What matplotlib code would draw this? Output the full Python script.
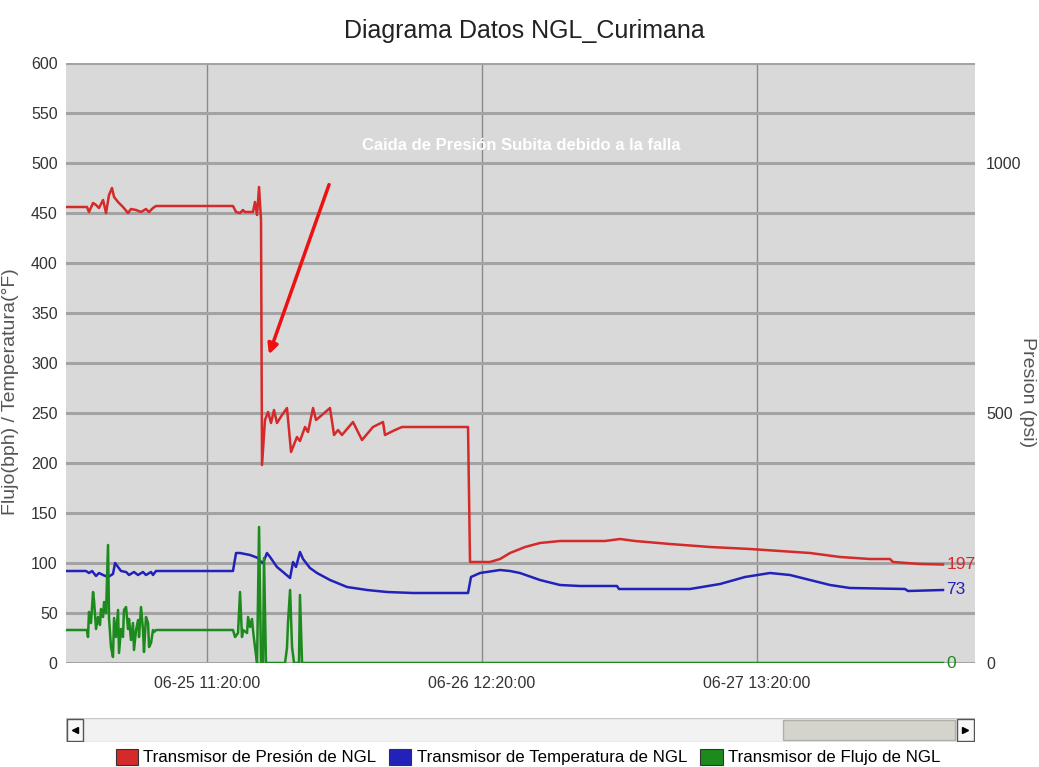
import numpy as np
import pandas as pd
import matplotlib
matplotlib.use('Agg')
import matplotlib.pyplot as plt
import matplotlib.dates as mdates
from matplotlib.patches import Rectangle, Patch

plt.rcParams['font.family'] = ['Liberation Sans', 'DejaVu Sans']

# time in hours relative to 06-25 11:20:00
base_time = pd.Timestamp('2015-06-25 11:20:00')

pres_h = [-12.82, -10.91, -10.73, -10.36, -10.09, -9.82, -9.45, -9.18, -8.91, -8.64,
          -8.45, -8.09, -7.64, -7.18, -6.91, -6.45, -6.00, -5.55, -5.27, -4.91,
          -4.64, 2.36, 2.64, 3.00, 3.27, 3.45, 4.18, 4.36, 4.55, 4.73,
          4.91, 5.00, 5.27, 5.55, 5.82, 6.09, 6.36, 6.82, 7.27, 7.64,
          8.18, 8.45, 8.91, 9.18, 9.64, 9.91, 10.45, 11.18, 11.55, 11.91,
          12.27, 13.27, 14.09, 15.09, 16.00, 16.18, 17.09, 17.73, 23.73, 23.91,
          25.73, 26.64, 27.55, 28.91, 30.27, 32.09, 36.18, 37.55, 38.91, 42.09,
          45.73, 49.36, 52.09, 54.82, 57.55, 60.27, 62.09, 62.36, 64.82, 66.91]
pres_psi = [912, 912, 902, 920, 916, 910, 926, 900, 936, 950,
            932, 922, 912, 900, 908, 906, 902, 908, 902, 910,
            914, 914, 902, 900, 906, 902, 902, 922, 896, 952,
            886, 396, 486, 502, 480, 506, 480, 496, 510, 422,
            452, 444, 472, 462, 510, 486, 496, 510, 456, 466,
            456, 482, 446, 472, 482, 456, 466, 472, 472, 202,
            202, 208, 220, 232, 240, 244, 244, 248, 244, 238,
            232, 228, 224, 220, 212, 208, 208, 202, 198, 197]

temp_h = [-12.82, -11.00, -10.73, -10.45, -10.09, -9.82, -9.45, -9.00, -8.55, -8.36,
          -8.09, -7.82, -7.36, -7.09, -6.64, -6.27, -5.82, -5.55, -5.09, -4.91,
          -4.64, 2.36, 2.64, 3.00, 3.91, 4.64, 4.91, 5.09, 5.45, 5.73,
          6.36, 6.91, 7.55, 7.82, 8.09, 8.45, 8.73, 9.36, 10.00, 11.18,
          12.73, 14.55, 16.36, 18.73, 23.73, 24.00, 24.82, 26.64, 27.55, 28.45,
          30.27, 32.09, 33.91, 37.27, 37.45, 40.27, 43.91, 46.64, 48.91, 51.18,
          53.00, 54.82, 56.64, 58.45, 63.45, 63.73, 66.91]
temp_f = [92, 92, 90, 92, 87, 90, 88, 86, 89, 100,
          96, 92, 91, 88, 91, 88, 91, 88, 91, 88,
          92, 92, 110, 110, 108, 105, 101, 100, 110, 106,
          96, 91, 85, 101, 96, 111, 104, 95, 90, 83,
          76, 73, 71, 70, 70, 86, 90, 93, 92, 90,
          83, 78, 77, 77, 74, 74, 74, 79, 86, 90,
          88, 83, 78, 75, 74, 72, 73]

flow_h = [-12.82, -10.91, -10.82, -10.73, -10.55, -10.36, -10.27, -10.09, -9.91, -9.73,
          -9.64, -9.45, -9.36, -9.18, -9.00, -8.91, -8.73, -8.55, -8.45, -8.27,
          -8.09, -8.00, -7.82, -7.64, -7.55, -7.36, -7.18, -7.09, -6.91, -6.73,
          -6.64, -6.45, -6.27, -6.18, -6.00, -5.82, -5.73, -5.55, -5.36, -5.27,
          -5.09, -4.91, -4.82, -4.64, 2.36, 2.55, 2.82, 3.00, 3.18, 3.27,
          3.64, 3.73, 3.91, 4.09, 4.18, 4.36, 4.55, 4.73, 4.91, 5.09,
          5.18, 5.36, 7.09, 7.27, 7.36, 7.55, 7.73, 7.91, 8.36, 8.45,
          8.64, 66.91]
flow_bph = [33, 33, 26, 51, 40, 71, 62, 34, 46, 38,
            54, 46, 61, 50, 118, 45, 16, 6, 45, 26,
            53, 10, 34, 26, 53, 56, 34, 44, 23, 40,
            13, 33, 43, 26, 56, 33, 11, 46, 40, 16,
            20, 33, 31, 33, 33, 26, 30, 71, 26, 33,
            30, 46, 36, 44, 33, 16, 0, 136, 0, 0,
            105, 0, 0, 15, 40, 73, 16, 0, 0, 68,
            0, 0]

series_names = ['Transmisor de Presión de NGL', 'Transmisor de Temperatura de NGL',
                'Transmisor de Flujo de NGL']
red, blue, green = '#d42a2a', '#2222bb', '#1c8a1c'


def to_time(hours):
    return base_time + pd.to_timedelta(np.array(hours), unit='h')


fig = plt.figure(figsize=(10.39, 7.67), dpi=100)
ax = fig.add_axes([66 / 1039, 1 - 663 / 767, 909 / 1039, 600 / 767])
ax.set_facecolor('#d9d9d9')
ax2 = ax.twinx()

ax.plot(to_time(temp_h), temp_f, color=blue, lw=1.8, zorder=3)
ax.plot(to_time(flow_h), flow_bph, color=green, lw=1.8, zorder=3)
ax2.plot(to_time(pres_h), pres_psi, color=red, lw=1.8, zorder=3)

ax.set_ylim(0, 600)
ax2.set_ylim(0, 1200)
ax.set_yticks(np.arange(0, 601, 50))
ax2.set_yticks([0, 500, 1000])
ax.set_xlim(to_time([-12.82])[0], to_time([69.82])[0])
ticks = to_time([0, 25, 50])
ax.set_xticks(ticks)
ax.xaxis.set_major_formatter(mdates.DateFormatter('%m-%d %H:%M:%S'))

ax.grid(axis='y', color='#a3a3a3', lw=2.2, zorder=1)
ax.grid(axis='x', color='#8a8a8a', lw=1.0, zorder=1)
ax.set_axisbelow(True)
for a in (ax, ax2):
    for s in a.spines.values():
        s.set_visible(False)
ax.tick_params(axis='both', length=0, labelsize=11.5, colors='#333333', pad=6)
ax.tick_params(axis='x', pad=9)
ax2.tick_params(axis='y', length=0, labelsize=11.5, colors='#333333', pad=8)

ax.set_ylabel('Flujo(bph) / Temperatura(°F)', fontsize=14, color='#555555')
ax.yaxis.set_label_coords(-0.052, 0.452)
ax2.set_ylabel('Presion (psi)', fontsize=14, color='#555555', rotation=270, va='center')
ax2.yaxis.set_label_coords(1.058, 0.452)
fig.suptitle('Diagrama Datos NGL_Curimana', fontsize=18, x=0.505, y=0.975, color='#222222')

# end value labels
x_end = to_time([67.2])[0]
ax2.text(x_end, pres_psi[-1], '197', color=red, fontsize=12.5, va='center', ha='left')
ax.text(x_end, temp_f[-1], '73', color=blue, fontsize=12.5, va='center', ha='left')
ax.text(x_end, flow_bph[-1], '0', color=green, fontsize=12.5, va='center', ha='left')

# annotation of the pressure drop
ax.annotate('', xy=(to_time([5.55])[0], 306), xytext=(to_time([11.18])[0], 481),
            arrowprops=dict(arrowstyle='-|>', color='#ee1111', lw=2.5,
                            mutation_scale=15), zorder=5)
ax.text(to_time([28.55])[0], 518, 'Caida de Presión Subita debido a la falla',
        color='white', fontsize=12, ha='center', va='center', fontweight='bold')

# scroll bar under the chart
sb = fig.add_axes([66 / 1039, 1 - 742 / 767, 909 / 1039, 24 / 767])
sb.set_xlim(0, 909)
sb.set_ylim(0, 24)
sb.axis('off')
sb.add_patch(Rectangle((0, 0), 909, 24, facecolor='#f2f2f2', edgecolor='#c8c8c8', lw=1))
sb.add_patch(Rectangle((717, 2), 172, 20, facecolor='#d4d4cc', edgecolor='#b0b0a8', lw=1))
sb.add_patch(Rectangle((1, 1), 16, 22, facecolor='#f8f8f8', edgecolor='#555555', lw=1))
sb.add_patch(Rectangle((891, 1), 17, 22, facecolor='#f8f8f8', edgecolor='#555555', lw=1))
sb.plot([9], [12], marker='<', color='black', ms=4)
sb.plot([899], [12], marker='>', color='black', ms=4)

handles = [Patch(facecolor=c, edgecolor='#333333', lw=0.8) for c in (red, blue, green)]
fig.legend(handles, series_names, loc='center', bbox_to_anchor=(0.508, 1 - 757 / 767),
           ncol=3, frameon=False, fontsize=12.2, handlelength=1.3, handleheight=1.1,
           handletextpad=0.3, columnspacing=0.8, borderaxespad=0)

fig.savefig('out.png', dpi=100)
